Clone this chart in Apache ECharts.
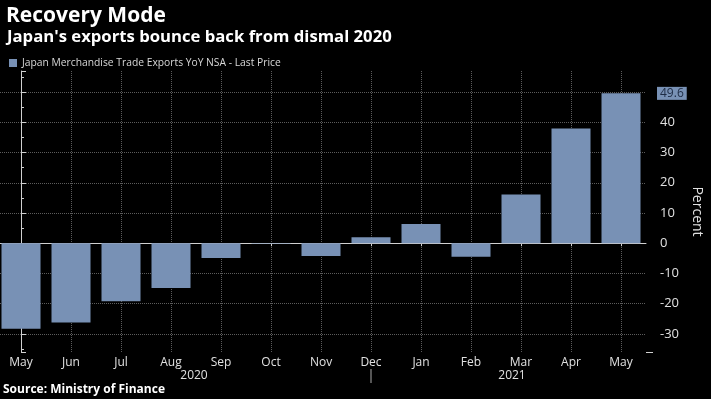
<!DOCTYPE html>
<html><head><meta charset="utf-8">
<script src="https://cdn.jsdelivr.net/npm/echarts@6/dist/echarts.min.js"></script>
<style>html,body{margin:0;padding:0;background:#000;}#c{width:711px;height:399px;}</style>
</head><body><div id="c"></div>
<script>
// ---- data ----
const months = ['May','Jun','Jul','Aug','Sep','Oct','Nov','Dec','Jan','Feb','Mar','Apr','May'];
const exportsYoY = [-28.3,-26.2,-19.2,-14.8,-4.9,-0.2,-4.2,2.0,6.4,-4.5,16.1,38.0,49.6];
const yTickLabels = [-30,-20,-10,0,10,20,30,40];
const years = ['2020','2021'];
const seriesName = 'Japan Merchandise Trade Exports YoY NSA - Last Price';

// ---- style / layout ----
const FONT = 'Open Sans';
const BAR = '#7891b5';
const GRIDC = '#5c5c5c';
const AXC = '#d0d0d0';
const chart = echarts.init(document.getElementById('c'), null, {renderer:'canvas'});
const option = {
  backgroundColor:'#000',
  animation:false,
  title:[
    {text:'Recovery Mode', left:1, top:1, textStyle:{color:'#fff', fontSize:21, fontWeight:'bold', fontFamily:FONT}},
    {text:"Japan's exports bounce back from dismal 2020", left:2, top:24, textStyle:{color:'#fff', fontSize:16.7, fontWeight:'bold', fontFamily:FONT}}
  ],
  legend:{left:4, top:53, icon:'rect', itemWidth:8, itemHeight:8, itemGap:5, textStyle:{color:'#d8d8d8', fontSize:10.3, fontFamily:FONT}, data:[seriesName]},
  grid:{left:-4, top:71, width:650, height:281, containLabel:false, outerBoundsMode:'none'},
  xAxis:[
    {type:'category', data:months, boundaryGap:true,
      axisLine:{show:true, lineStyle:{color:AXC}},
      axisTick:{show:true, alignWithLabel:true, length:3, lineStyle:{color:AXC}},
      axisLabel:{color:'#e0e0e0', fontSize:12, margin:5, fontFamily:FONT, interval:0},
      splitLine:{show:false}},
    {type:'value', min:-0.5, max:months.length-0.5, splitNumber:months.length, position:'bottom',
      axisLine:{show:false}, axisTick:{show:false}, axisLabel:{show:false},
      splitLine:{show:true, showMinLine:false, showMaxLine:false, lineStyle:{color:GRIDC, type:'dotted'}}}
  ],
  yAxis:{type:'value', position:'right', offset:7, min:-36, max:57, splitNumber:9,
    name:'Percent', nameLocation:'middle', nameRotate:-90, nameGap:27,
    nameTextStyle:{color:'#e0e0e0', fontSize:14, fontFamily:FONT},
    axisLine:{show:true, lineStyle:{color:AXC}},
    axisTick:{show:true, length:5, lineStyle:{color:AXC}},
    minorTick:{show:true, splitNumber:2, length:3, lineStyle:{color:AXC}},
    axisLabel:{color:'#e0e0e0', fontSize:13, margin:7, fontFamily:FONT,
      formatter: v => yTickLabels.includes(v) ? String(v) : ''},
    splitLine:{show:true, showMinLine:false, showMaxLine:false, lineStyle:{color:GRIDC, type:'dotted'}}},
  series:[{name:seriesName, type:'bar', xAxisIndex:0, data: exportsYoY, barWidth:39,
    itemStyle:{color:BAR},
    markLine:{silent:true, symbol:'none', data:[{yAxis: exportsYoY[exportsYoY.length-1]}],
      lineStyle:{color:'rgba(0,0,0,0)', width:0},
      label:{show:true, position:'end', formatter: p => Number(p.value).toFixed(1), backgroundColor:BAR,
        color:'#1d2b44', padding:[1,3,0,3], fontSize:12, fontFamily:FONT, distance:11}}}]
};
chart.setOption(option);

// year labels under the month labels, separator, axis-line extension, source
const px = v => chart.convertToPixel({xAxisIndex:1, yAxisIndex:0}, [v, 0]);
const breakIdx = months.indexOf('Jan') - 1; // Dec
const gridRight = px(months.length - 0.5)[0];
const axisY = chart.convertToPixel({yAxisIndex:0}, -36);
const axisX = gridRight + 7;
const yearX = [px(3.46)[0], (px(breakIdx)[0] + axisX) / 2];
chart.setOption({graphic:[
  ...years.map((t,i)=>({type:'text', x:yearX[i], y:370, style:{text:t, fill:'#e0e0e0', font:'12px "Open Sans"', textAlign:'center'}})),
  {type:'line', shape:{x1:px(breakIdx)[0], y1:369, x2:px(breakIdx)[0], y2:383}, style:{stroke:'#aaa', lineWidth:1}},
  {type:'line', shape:{x1:gridRight, y1:axisY + 0.5, x2:axisX, y2:axisY + 0.5}, style:{stroke:AXC, lineWidth:1}},
  {type:'text', x:3, y:384, style:{text:'Source: Ministry of Finance', fill:'#fff', font:'bold 12px "Open Sans"'}}
]});
</script></body></html>
